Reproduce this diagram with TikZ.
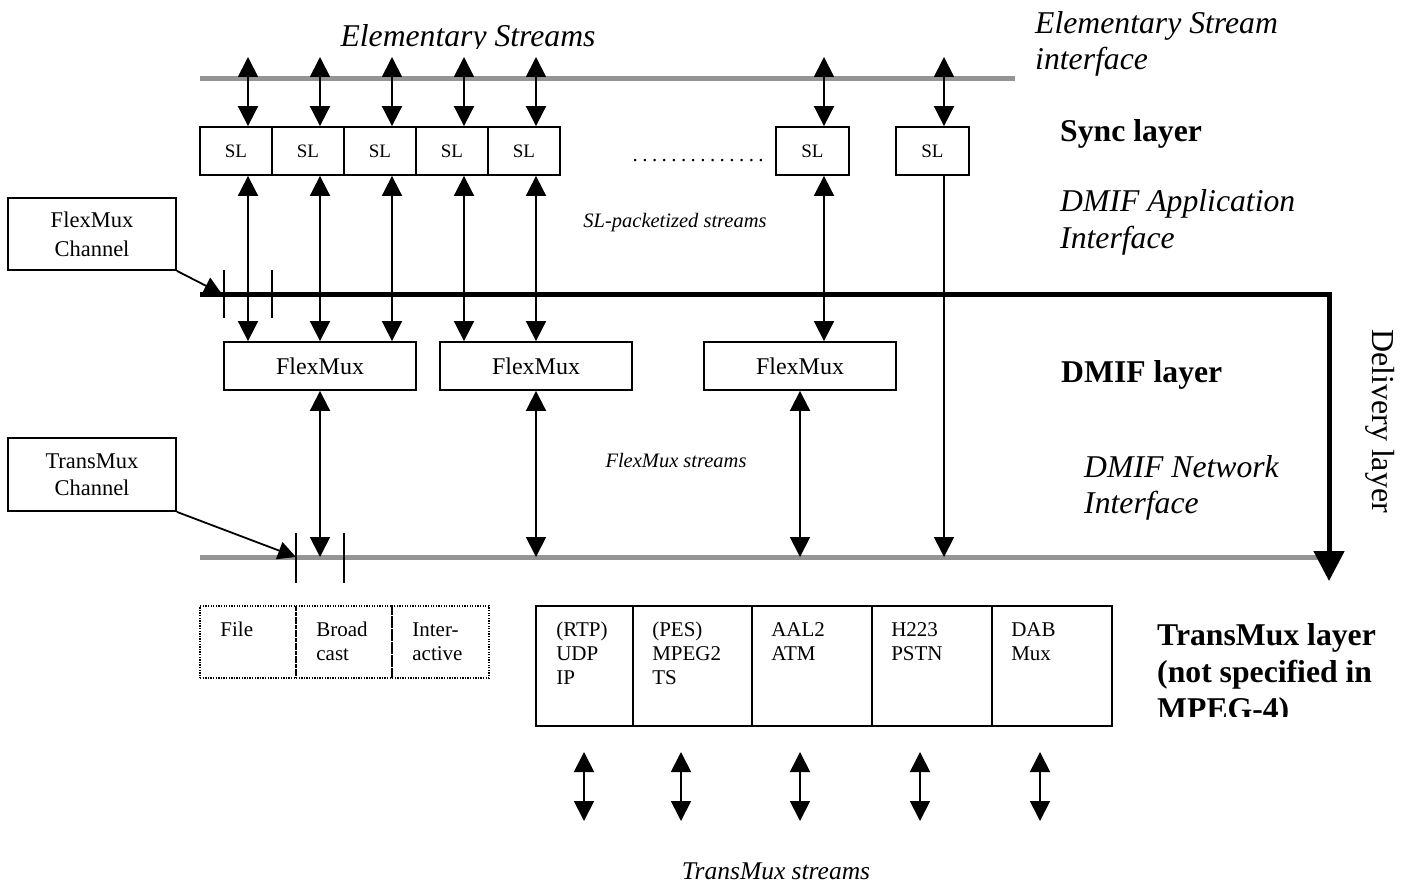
\documentclass[tikz,border=0pt]{standalone}
\usepackage{fontspec}
\setmainfont{Liberation Serif}
\usetikzlibrary{arrows.meta,calc}
\definecolor{ifgray}{gray}{0.58}
\begin{document}
\begin{tikzpicture}[x=1pt,y=-1pt,
  boxed/.style={draw,line width=1.8pt,inner sep=0pt},
  slbox/.style={boxed,minimum width=72pt,minimum height=48pt,font=\fontsize{19}{22}\selectfont},
  fmbox/.style={boxed,minimum width=192pt,minimum height=48pt,font=\fontsize{24}{28}\selectfont},
  chanbox/.style={boxed,minimum width=168pt,align=center,font=\fontsize{22.5}{29}\selectfont},
  tmbox/.style={boxed,minimum width=120pt,minimum height=120pt},
  medbox/.style={draw,line width=1.6pt,dash pattern=on 1.3pt off 1.3pt,inner sep=0pt,minimum width=96pt,minimum height=72pt},
  cell/.style={anchor=base west,align=left,inner sep=0pt,font=\fontsize{21}{24}\selectfont},
  dbl/.style={line width=1.8pt,{Triangle[length=20pt,width=20pt]}-{Triangle[length=20pt,width=20pt]}},
  one/.style={line width=1.8pt,-{Triangle[length=20pt,width=20pt]}},
  iface/.style={ifgray,line width=5pt},
  tick/.style={line width=1.8pt},
  layer/.style={anchor=base west,align=left,inner sep=0pt,font=\fontsize{31.7}{37}\selectfont\bfseries},
  iname/.style={anchor=base west,align=left,inner sep=0pt,font=\fontsize{31.7}{36}\selectfont\itshape},
  stream/.style={anchor=base,inner sep=0pt,font=\itshape}
]
\useasboundingbox (0,0) rectangle (1412,885);

% interface lines
\coordinate (es0) at (200,79);  \coordinate (es1) at (1015,79);
\coordinate (bl)  at (200,557); \coordinate (bl1) at (1322,557);
\draw[iface] (es0) -- (es1);
\draw[iface] (bl) -- (bl1);

% sync layer boxes
\node[slbox] (sl1) at (236,151) {SL};
\node[slbox] (sl2) at (308,151) {SL};
\node[slbox] (sl3) at (380,151) {SL};
\node[slbox] (sl4) at (452,151) {SL};
\node[slbox] (sl5) at (524,151) {SL};
\node[slbox,minimum width=73pt] (sl6) at (812.5,151) {SL};
\node[slbox,minimum width=73pt] (sl7) at (932.5,151) {SL};
\node[anchor=base west,inner sep=0pt,font=\fontsize{21}{24}\selectfont] (dots) at (630,162)
  {\hbox to 136pt{\xleaders\hbox to 9.07pt{\hss.\hss}\hfill}};

% FlexMux boxes
\node[fmbox] (fm1) at (320,366) {FlexMux};
\node[fmbox] (fm2) at (536,366) {FlexMux};
\node[fmbox] (fm3) at (800,366) {FlexMux};

% elementary stream ends
\coordinate (t1) at (248,57);
\coordinate (t2) at (320,57);
\coordinate (t3) at (392,57);
\coordinate (t4) at (464,57);
\coordinate (t5) at (536,57);
\coordinate (t6) at (824,57);
\coordinate (t7) at (944,57);
\foreach \i in {1,...,7} {\draw[dbl] (t\i) -- (t\i |- sl\i.north);}

% SL-packetized streams
\draw[dbl] (t1 |- sl1.south) -- (t1 |- fm1.north);
\draw[dbl] (t2 |- sl2.south) -- (t2 |- fm1.north);
\draw[dbl] (t3 |- sl3.south) -- (t3 |- fm1.north);
\draw[dbl] (t4 |- sl4.south) -- (t4 |- fm2.north);
\draw[dbl] (t5 |- sl5.south) -- (t5 |- fm2.north);
\draw[dbl] (t6 |- sl6.south) -- (t6 |- fm3.north);
\draw[one] (t7 |- sl7.south) -- (t7 |- bl);

% FlexMux streams
\draw[dbl] (fm1.south) -- (fm1.south |- bl);
\draw[dbl] (fm2.south) -- (fm2.south |- bl);
\draw[dbl] (fm3.south) -- (fm3.south |- bl);

% delivery layer boundary
\coordinate (dl0) at (200,294);
\coordinate (dl1) at (1329,294);
\coordinate (dl2) at (1329,581);
\draw[line width=5pt,-{Triangle[length=30pt,width=30pt]}] (dl0) -- (dl1) -- (dl2);

% FlexMux channel
\node[chanbox,minimum height=72pt] (fmc) at (92,234) {FlexMux\\Channel};
\coordinate (fmctip) at (222,294);
\draw[line width=1.8pt,-{Triangle[length=18pt,width=18pt]}] (fmc.south east) -- (fmctip);
\coordinate (fa) at (224,270); \coordinate (fb) at (272,270);
\draw[tick] (fa) -- ++(0,48);
\draw[tick] (fb) -- ++(0,48);

% TransMux channel
\node[chanbox,minimum height=73pt,font=\fontsize{22.5}{27}\selectfont] (tmc) at (92,474.5) {TransMux\\Channel};
\coordinate (tmctip) at (296,557);
\draw[line width=1.8pt,-{Triangle[length=18pt,width=18pt]}] (tmc.south east) -- (tmctip);
\coordinate (ta) at (296,533); \coordinate (tb) at (344,533);
\draw[tick] (ta) -- ++(0,50);
\draw[tick] (tb) -- ++(0,50);

% storage / delivery media
\node[medbox] (file) at (248,642) {};
\node[medbox] (bcast) at (344,642) {};
\node[medbox,minimum width=97pt] (iact) at (440.5,642) {};
\node[cell] (filet) at ($(file.north west)+(21,31)$) {File};
\node[cell] (bcastt) at ($(bcast.north west)+(21,55)$) {Broad\\cast};
\node[cell] (iactt) at ($(iact.north west)+(21,55)$) {Inter-\\active};

% TransMux instances
\node[tmbox,minimum width=97pt] (rtp) at (584.5,666) {};
\node[tmbox,minimum width=119pt] (pes) at (692.5,666) {};
\node[tmbox] (aal) at (812,666) {};
\node[tmbox] (h223) at (932,666) {};
\node[tmbox] (dab) at (1052,666) {};
\node[cell] (rtpt) at ($(rtp.north west)+(21,79)$) {(RTP)\\UDP\\IP};
\node[cell] (pest) at ($(pes.north west)+(20,79)$) {(PES)\\MPEG2\\TS};
\node[cell] (aalt) at ($(aal.north west)+(20,55)$) {AAL2\\ATM};
\node[cell] (h223t) at ($(h223.north west)+(20,55)$) {H223\\PSTN};
\node[cell] (dabt) at ($(dab.north west)+(20,55)$) {DAB\\Mux};

% TransMux streams
\foreach \n/\x in {1/584,2/681,3/800,4/920,5/1040} {
  \coordinate (ba\n) at (\x,752);
  \coordinate (bb\n) at (\x,821);
  \draw[dbl] (ba\n) -- (bb\n);
}

% stream labels
\begin{scope}
  \clip (300,0) rectangle (640,48.5);
  \node[stream,font=\fontsize{31.7}{36}\selectfont\itshape] (esl) at (468,47) {Elementary Streams};
\end{scope}
\node[stream,font=\fontsize{20.5}{24}\selectfont\itshape] (slps) at (675,228) {SL-packetized streams};
\node[stream,font=\fontsize{20.5}{24}\selectfont\itshape] (fmxs) at (676,467) {FlexMux streams};
\node[stream,font=\fontsize{25.5}{30}\selectfont\itshape] (tmxs) at (776,879) {TransMux streams};

% layer names (anchored at the baseline of their last line)
\node[iname] (esi) at (1035,70) {Elementary Stream\\interface};
\node[layer] (sync) at (1060,142) {Sync layer};
\node[iname] (dai) at (1060,248) {DMIF Application\\Interface};
\node[layer] (dmif) at (1061,382) {DMIF layer};
\node[iname] (dni) at (1084,513) {DMIF Network\\Interface};
\begin{scope}
  \clip (1140,600) rectangle (1412,716);
  \node[layer] (tml) at (1157,719) {TransMux layer\\(not specified in\\MPEG-4)};
\end{scope}
\node[rotate=-90,inner sep=0pt,font=\fontsize{32}{36}\selectfont] (deliv) at (1380,421) {Delivery layer};
\end{tikzpicture}
\end{document}
